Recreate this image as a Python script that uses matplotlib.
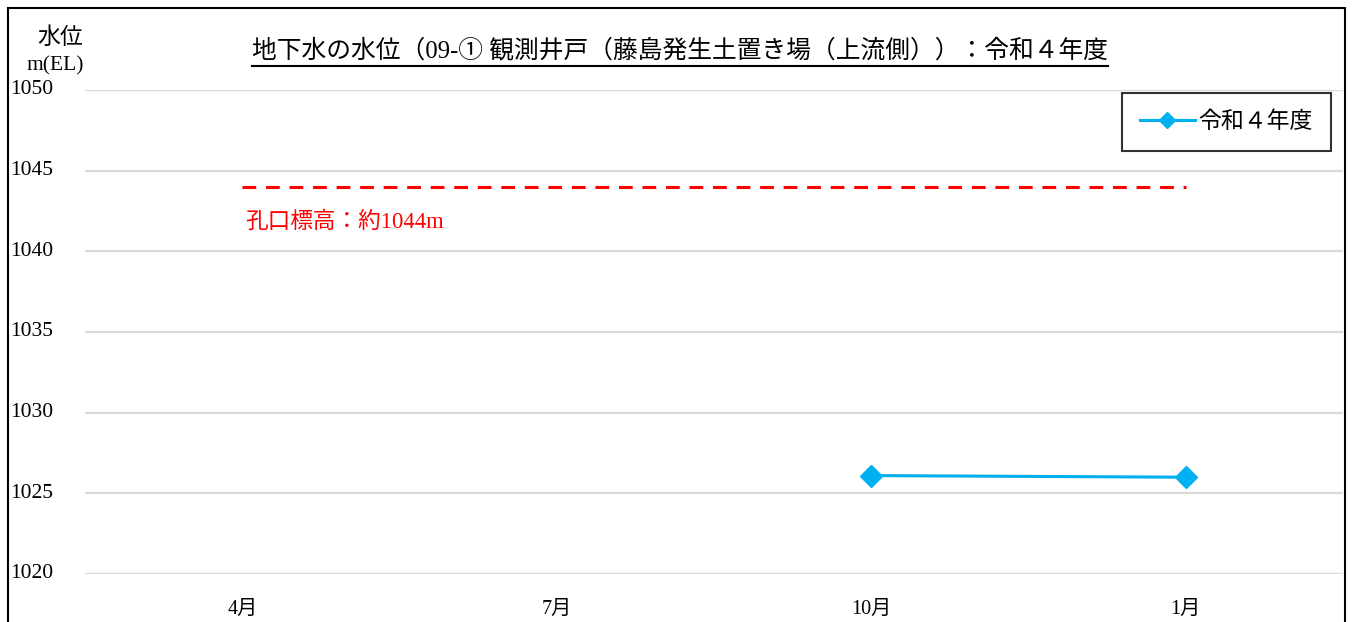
import matplotlib
matplotlib.use("Agg")
import matplotlib.pyplot as plt
from matplotlib.lines import Line2D
from matplotlib.patches import Rectangle
import matplotlib.transforms as mtransforms
import numpy as np

plt.rcParams['font.family'] = ['Liberation Serif', 'Noto Sans CJK JP', 'DejaVu Sans']

categories = ['4月', '7月', '10月', '1月']
series_name = '令和４年度'
values = [np.nan, np.nan, 1026.1, 1026.0]
ref_level = 1044
ref_label = '孔口標高：約1044m'
title = '地下水の水位（09-① 観測井戸（藤島発生土置き場（上流側））：令和４年度'
yticks = [1020, 1025, 1030, 1035, 1040, 1045, 1050]

W, H = 1352, 622
fig = plt.figure(figsize=(W / 100, H / 100), dpi=100)
ax = fig.add_axes([85 / W, 1 - 574 / H, (1343 - 85) / W, (574 - 90) / H])

x = np.arange(len(categories))
ax.set_xlim(-0.5, len(categories) - 0.5)
ax.set_ylim(1020, 1050)
ax.set_yticks(yticks)
ax.yaxis.grid(True, color='#D9D9D9', linewidth=1.6)
ax.set_axisbelow(True)
for s in ax.spines.values():
    s.set_visible(False)
ax.tick_params(axis='both', length=0)
ax.set_yticklabels([])
ax.set_xticks(x)
ax.set_xticklabels(categories, fontsize=14.5)
ax.tick_params(axis='x', pad=19)

# y tick labels placed at left edge
ytrans = mtransforms.blended_transform_factory(fig.transFigure, ax.transData)
for v in yticks:
    ax.text(10 / W, v, str(v), transform=ytrans, fontsize=15.5, ha='left', va='center')

# reference dashed line
ax.plot([x[0], x[-1]], [ref_level, ref_level], color='#FF0000', linewidth=2.2,
        linestyle=(0, (4.5, 3.2)))
ax.text(x[0] + 0.01, ref_level - 2.2, ref_label, color='#FF0000', fontsize=16.3,
        ha='left', va='center')

ax.plot(x, values, color='#00B0F0', linewidth=2.2, marker='D', markersize=11,
        label=series_name)

leg = ax.legend(loc='upper right', bbox_to_anchor=(1331 / W, 1 - 93 / H),
                bbox_transform=fig.transFigure, frameon=True, fancybox=False,
                fontsize=16.5, handlelength=2.4, borderpad=0.8, handletextpad=0.15,
                borderaxespad=0)
leg.get_frame().set_edgecolor('black')
leg.get_frame().set_linewidth(1.5)
for h in leg.legend_handles:
    h.set_markersize(8)

# axis title
fig.text(60 / W, 1 - 38 / H, '水位', fontsize=16.5, ha='center', va='center')
fig.text(55 / W, 1 - 66 / H, 'm(EL)', fontsize=15.5, ha='center', va='center')

# chart title with underline
t = fig.text(680 / W, 1 - 50 / H, title, fontsize=17.8, ha='center', va='center')
fig.canvas.draw()
bb = t.get_window_extent(renderer=fig.canvas.get_renderer())
uy = 1 - 66 / H
fig.add_artist(Line2D([bb.x0 / W, bb.x1 / W], [uy, uy], color='black', linewidth=1.5,
                      transform=fig.transFigure))

# outer border
fig.add_artist(Rectangle((8 / W, -0.05), (1345 - 8) / W, 1 - 8 / H + 0.05,
                         transform=fig.transFigure, fill=False, edgecolor='black',
                         linewidth=1.5))

fig.savefig('out.png', dpi=100)
